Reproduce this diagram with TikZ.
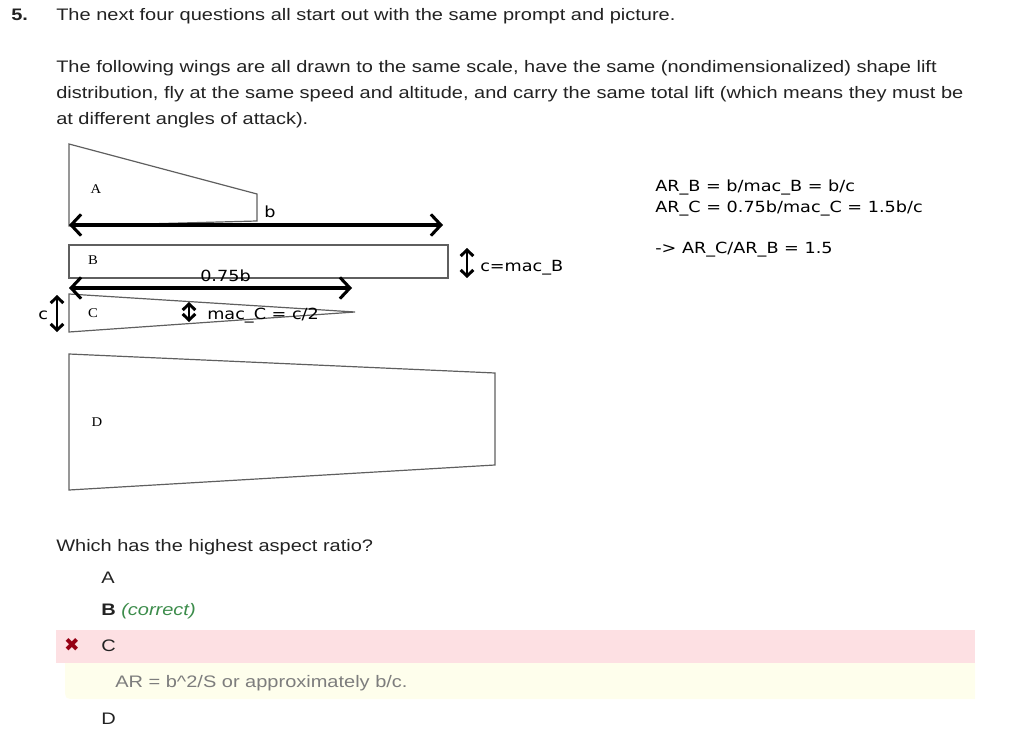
\documentclass[tikz,border=0pt]{standalone}
\usepackage{fontspec}
\setmainfont{Liberation Sans}[FakeStretch=1.2]
\newfontfamily\handfont{DejaVu Sans}[FakeStretch=1.15]
\newfontfamily\symfont{DejaVu Sans}
\newfontfamily\wingfont{Liberation Serif}[FakeStretch=1.1]
\usetikzlibrary{arrows.meta}
\definecolor{wingGray}{RGB}{95,95,95}
\definecolor{wrongPink}{RGB}{253,224,227}
\definecolor{hintYellow}{RGB}{254,254,236}
\definecolor{crossRed}{RGB}{150,0,20}
\definecolor{rightGreen}{RGB}{60,140,75}
\definecolor{hintGray}{RGB}{125,125,125}
\definecolor{bodyInk}{RGB}{34,34,34}

\begin{document}
\begin{tikzpicture}[x=0.75pt,y=-0.75pt,
    wing/.style={draw=wingGray,line width=0.9pt},
    wingname/.style={font=\wingfont\fontsize{10}{11}\selectfont,inner sep=0pt},
    span/.style={line width=2.3pt,{Straight Barb[length=7.5pt,width=16pt]}-{Straight Barb[length=7.5pt,width=16pt]}},
    chord/.style={line width=2.2pt,{Straight Barb[length=4.5pt,width=9.5pt]}-{Straight Barb[length=4.5pt,width=9.5pt]}},
    hand/.style={font=\handfont\fontsize{11.5}{14}\selectfont,inner sep=0pt,anchor=base west},
    body/.style={font=\fontsize{12.5}{15}\selectfont,text=bodyInk,inner sep=0pt,anchor=base west}]
    \useasboundingbox (0,0) rectangle (1026,735);
    % prompt
    \node[body,font=\bfseries\fontsize{12.5}{15}\selectfont] (num) at (11,21) {5.};
    \node[body] (line0) at (56,21) {The next four questions all start out with the same prompt and picture.};
    \node[body] (line1) at (56,73) {The following wings are all drawn to the same scale, have the same (nondimensionalized) shape lift};
    \node[body] (line2) at (56,99) {distribution, fly at the same speed and altitude, and carry the same total lift (which means they must be};
    \node[body] (line3) at (56,125) {at different angles of attack).};
    % wings
    \draw[wing] (69,144) -- (257,194) -- (257,221) -- (69,226) -- cycle;
    \draw[wing] (69,245) rectangle (448,278);
    \draw[wing] (69,294) -- (355,312) -- (69,332) -- cycle;
    \draw[wing] (69,354) -- (495,373) -- (495,465) -- (69,490) -- cycle;
    \node[wingname] (nameA) at (96,189) {A};
    \node[wingname] (nameB) at (93,260) {B};
    \node[wingname] (nameC) at (93,313) {C};
    \node[wingname] (nameD) at (97,422) {D};
    % hand marks
    \coordinate (bL) at (69,225);  \coordinate (bR) at (443,225);
    \coordinate (qL) at (69,288);  \coordinate (qR) at (352,288);
    \coordinate (cT) at (57,295);  \coordinate (cB) at (57,332);
    \coordinate (mT) at (189,302); \coordinate (mB) at (189,322);
    \coordinate (kT) at (467,248); \coordinate (kB) at (467,278);
    \draw[span] (bL) -- (bR);
    \draw[span] (qL) -- (qR);
    \draw[chord] (cT) -- (cB);
    \draw[chord] (mT) -- (mB);
    \draw[chord] (kT) -- (kB);
    \node[hand] (labb) at (264,217) {b};
    \node[hand] (labq) at (200,281) {0.75b};
    \node[hand] (labc) at (38,319) {c};
    \node[hand] (labm) at (207,319) {mac\_C = c/2};
    \node[hand] (labk) at (480,271) {c=mac\_B};
    \node[hand] (arB) at (655,191) {AR\_B = b/mac\_B = b/c};
    \node[hand] (arC) at (655,212) {AR\_C = 0.75b/mac\_C = 1.5b/c};
    \node[hand] (ratio) at (655,253) {-> AR\_C/AR\_B = 1.5};
    % answers
    \fill[wrongPink] (56,630) rectangle (975,663);
    \fill[hintYellow] (65,663) -- (975,663) -- (975,699) -- (77,699) .. controls (65,699) .. (65,687) -- cycle;
    \node[body] (ask) at (56,551) {Which has the highest aspect ratio?};
    \node[body] (optA) at (101,583) {A};
    \node[body] (optB) at (101,615) {\textbf{B} \textcolor{rightGreen}{\itshape(correct)}};
    \node[text=crossRed,font=\symfont\fontsize{14}{16}\selectfont,inner sep=0pt] (cross) at (72,645) {✖};
    \node[body] (optC) at (101,651) {C};
    \node[body,text=hintGray] (hint) at (115,687) {AR = b\string^2/S or approximately b/c.};
    \node[body] (optD) at (101,724) {D};
\end{tikzpicture}
\end{document}
